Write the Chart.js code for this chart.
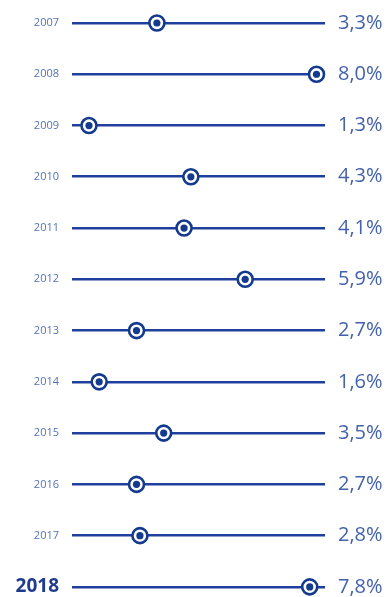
<!DOCTYPE html>
<html>
<head>
<meta charset="utf-8">
<script src="https://cdn.jsdelivr.net/npm/chart.js@4/dist/chart.umd.min.js"></script>
<style>
  html, body { margin: 0; padding: 0; background: #fff; }
  #wrap { width: 388px; height: 597px; position: relative; }
</style>
</head>
<body>
<div id="wrap"><canvas id="growthChart"></canvas></div>
<script>
// Data
const years = ['2007', '2008', '2009', '2010', '2011', '2012', '2013', '2014', '2015', '2016', '2017', '2018'];
const growth = [3.3, 8.0, 1.3, 4.3, 4.1, 5.9, 2.7, 1.6, 3.5, 2.7, 2.8, 7.8];
const pctLabels = growth.map(v => v.toFixed(1).replace('.', ',') + '%');

// Colours
const LINE_BLUE = '#1e409c';
const MARK_BLUE = '#143a8e';
const YEAR_BLUE = '#5572b6';
const PCT_BLUE = '#4462ab';

const points = years.map((y, i) => ({ x: growth[i], y: y }));
const lastIdx = years.length - 1;

new Chart(document.getElementById('growthChart').getContext('2d'), {
  type: 'scatter',
  data: {
    datasets: [
      {
        // inner dot (drawn on top)
        data: points,
        order: 1,
        pointRadius: 3.6,
        pointHoverRadius: 3.6,
        pointBackgroundColor: MARK_BLUE,
        pointBorderWidth: 0,
        clip: false
      },
      {
        // outer ring
        data: points,
        order: 2,
        pointRadius: 7.5,
        pointHoverRadius: 7.5,
        pointBackgroundColor: '#ffffff',
        pointBorderColor: MARK_BLUE,
        pointBorderWidth: 2.6,
        clip: false
      }
    ]
  },
  options: {
    responsive: true,
    maintainAspectRatio: false,
    animation: false,
    layout: { padding: { top: 23, bottom: 7, left: 0, right: 0 } },
    plugins: {
      legend: { display: false },
      tooltip: { enabled: false }
    },
    scales: {
      x: {
        type: 'linear',
        min: 0.8,
        max: 8.25,
        display: false
      },
      y: {
        type: 'category',
        labels: years,
        position: 'left',
        offset: false,
        border: { display: false },
        grid: {
          color: LINE_BLUE,
          lineWidth: 2.6,
          drawTicks: false
        },
        ticks: {
          padding: 13,
          color: ctx => ctx.index === lastIdx ? '#1f3c8c' : YEAR_BLUE,
          font: ctx => ctx.index === lastIdx
            ? { family: '"Open Sans", sans-serif', size: 19, weight: 'bold' }
            : { family: '"Open Sans", sans-serif', size: 11 }
        },
        afterFit: scale => {
          scale.width = 72;
          scale.paddingTop = 0;
          scale.paddingBottom = 0;
        }
      },
      y2: {
        type: 'category',
        labels: pctLabels,
        position: 'right',
        offset: false,
        border: { display: false },
        grid: { display: false, drawTicks: false },
        ticks: {
          padding: 13,
          color: PCT_BLUE,
          font: { family: '"Open Sans", sans-serif', size: 20 }
        },
        afterFit: scale => {
          scale.width = 63;
          scale.paddingTop = 0;
          scale.paddingBottom = 0;
        }
      }
    }
  }
});
</script>
</body>
</html>
